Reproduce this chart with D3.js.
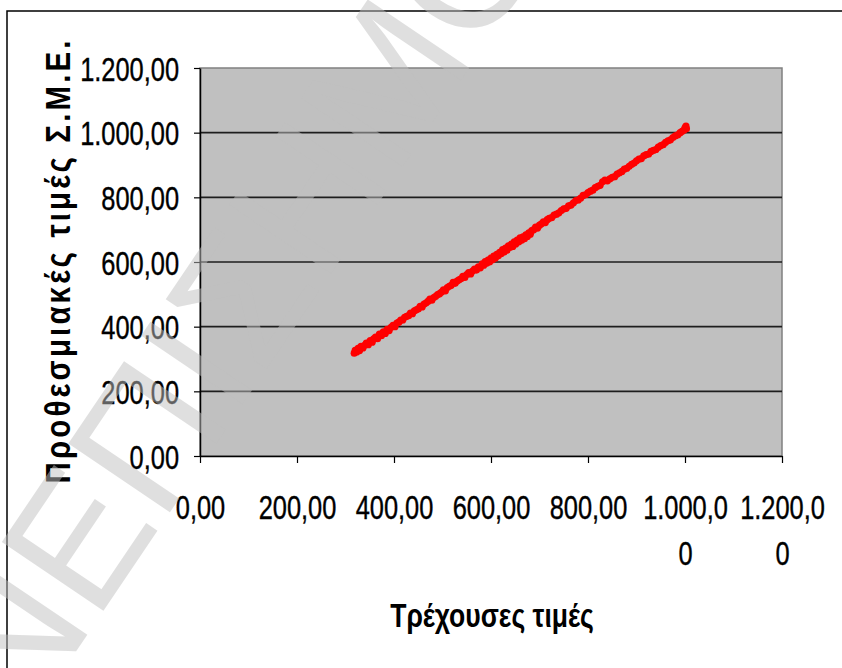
<!DOCTYPE html>
<html>
<head>
<meta charset="utf-8">
<script src="https://cdn.jsdelivr.net/npm/d3@7"></script>
<style>
  body { margin: 0; background: #fff; }
  svg { display: block; }
</style>
</head>
<body>
<svg id="chart" width="842" height="668"></svg>
<script>
// Current spot prices (x) against forward prices (y)
const currentPrices = [
  318,320,323,326,329,332,336,340,343,347,351,355,358,362,366,370,374,378,382,386,
  390,394,398,402,406,410,414,418,422,426,430,434,438,442,446,450,454,458,462,466,
  470,474,478,482,486,490,494,498,502,506,510,514,518,522,526,530,534,538,542,546,
  550,554,558,562,566,570,574,578,582,585,588,591,594,597,600,603,606,609,612,615,
  618,621,624,627,630,633,636,639,642,645,648,651,654,657,660,663,666,669,672,675,
  678,681,684,688,692,696,700,704,708,712,716,720,725,730,735,740,745,750,755,760,
  765,770,775,780,785,790,795,800,805,810,815,820,825,830,835,840,845,850,855,860,
  865,870,875,880,885,890,895,900,905,910,915,920,925,930,935,940,945,950,955,960,
  965,970,975,980,985,990,994,998,1000,1002,1003
];
const forwardPrices = [
  318,327,322,333,326,339,334,343,349,344,357,352,362,368,363,377,372,384,379,392,
  388,398,404,400,411,414,420,421,429,432,434,442,440,449,452,455,463,461,470,473,
  478,485,482,490,494,499,502,507,514,511,521,525,528,537,534,541,545,548,556,552,
  561,567,563,572,578,575,585,582,594,590,601,596,606,600,612,607,618,612,624,619,
  630,626,638,631,643,637,650,645,655,648,662,656,668,662,675,667,678,672,684,679,
  690,686,697,700,708,705,714,718,724,722,731,735,737,745,748,752,759,764,766,774,
  776,783,790,792,798,806,808,815,819,822,830,834,837,848,853,851,857,862,864,872,
  876,880,887,890,896,902,906,913,918,920,928,932,934,942,945,948,955,960,963,970,
  975,978,985,990,993,1000,1004,1008,1015,1020,1012
];

const xTicks = [0, 200, 400, 600, 800, 1000, 1200];
const yTicks = [0, 200, 400, 600, 800, 1000, 1200];
const xTitle = "Τρέχουσες τιμές";
const yTitle = "Προθεσμιακές τιμές Σ.Μ.Ε.";
const watermarkText = "ΑΝΕΠΙΣΗΜΟ";

const svg = d3.select("#chart");
const W = 842, H = 668;
const plot = { left: 200, right: 782, top: 68, bottom: 456 };
const narrow = 0.77;           // horizontal squeeze for the condensed label face
const labelFont = "'Liberation Sans', Arial, sans-serif";
const labelSize = 33;

const greek = d3.formatLocale({ decimal: ",", thousands: ".", grouping: [3], currency: ["", " €"] });
const fmt = greek.format(",.2f");

const x = d3.scaleLinear().domain([0, 1200]).range([plot.left, plot.right]);
const y = d3.scaleLinear().domain([0, 1200]).range([plot.bottom, plot.top]);

// outer frame (top and left edges)
svg.append("path")
  .attr("d", `M7,${H} L7,11 L${W},11`)
  .attr("fill", "none").attr("stroke", "#000").attr("stroke-width", 1.5);

// plot area
svg.append("rect")
  .attr("x", plot.left).attr("y", plot.top)
  .attr("width", plot.right - plot.left).attr("height", plot.bottom - plot.top)
  .attr("fill", "#c0c0c0").attr("stroke", "#808080").attr("stroke-width", 1.5);

// horizontal gridlines
svg.append("g").selectAll("line")
  .data(yTicks.filter(v => v > 0 && v < 1200))
  .join("line")
  .attr("x1", plot.left).attr("x2", plot.right)
  .attr("y1", d => y(d)).attr("y2", d => y(d))
  .attr("stroke", "#1e1e1e").attr("stroke-width", 1.6);

// y axis
const yAxis = svg.append("g")
  .attr("transform", `translate(${plot.left},0)`)
  .call(d3.axisLeft(y).tickValues(yTicks).tickFormat(fmt).tickSize(6).tickSizeOuter(0));
yAxis.select(".domain").attr("stroke", "#000").attr("stroke-width", 1.5);
yAxis.selectAll(".tick line").attr("stroke", "#000").attr("stroke-width", 1.2);
yAxis.selectAll(".tick text")
  .attr("font-family", labelFont).attr("font-size", labelSize).attr("fill", "#000")
  .attr("stroke", "#000").attr("stroke-width", 0.4)
  .attr("text-anchor", "end")
  .attr("x", -21 / narrow).attr("dy", "0.37em")
  .attr("transform", `scale(${narrow},1)`);

// x axis
const xAxis = svg.append("g")
  .attr("transform", `translate(0,${plot.bottom})`)
  .call(d3.axisBottom(x).tickValues(xTicks).tickFormat(fmt).tickSize(7).tickSizeOuter(0));
xAxis.select(".domain").attr("stroke", "#000").attr("stroke-width", 1.5);
xAxis.selectAll(".tick line").attr("stroke", "#000").attr("stroke-width", 1.2);

// x tick labels wrap onto a second line when wider than the tick spacing
const maxLabelWidth = 90;
xAxis.selectAll(".tick text").each(function(d) {
  const t = d3.select(this);
  const full = fmt(d);
  t.text(null)
    .attr("font-family", labelFont).attr("font-size", labelSize).attr("fill", "#000")
    .attr("stroke", "#000").attr("stroke-width", 0.4)
    .attr("text-anchor", "middle").attr("y", null).attr("dy", null)
    .attr("transform", `scale(${narrow},1)`);
  let first = full, second = "";
  const probe = t.append("tspan").attr("x", 0).attr("y", 63).text(first);
  while (probe.node().getComputedTextLength() * narrow > maxLabelWidth && first.length > 1) {
    second = first.slice(-1) + second;
    first = first.slice(0, -1);
    probe.text(first);
  }
  if (second) t.append("tspan").attr("x", 0).attr("y", 109).text(second);
});

// data points
svg.append("g").selectAll("circle")
  .data(currentPrices.map((v, i) => [v, forwardPrices[i]]))
  .join("circle")
  .attr("cx", d => x(d[0])).attr("cy", d => y(d[1]))
  .attr("r", 3.6).attr("fill", "#ff0000");

// axis titles
svg.append("text")
  .attr("transform", `translate(492,627) scale(0.78,1)`)
  .attr("text-anchor", "middle")
  .attr("font-family", labelFont).attr("font-weight", "bold").attr("font-size", 34)
  .attr("fill", "#000").text(xTitle);

const yTitleSqueeze = 0.82;
svg.append("text")
  .attr("transform", `translate(70,262) rotate(-90) scale(${yTitleSqueeze},1)`)
  .attr("text-anchor", "middle")
  .attr("font-family", labelFont).attr("font-weight", "bold").attr("font-size", 36)
  .attr("textLength", 443 / yTitleSqueeze).attr("lengthAdjust", "spacing")
  .attr("fill", "#000").text(yTitle);

// diagonal watermark across the page
svg.append("text")
  .attr("transform", "translate(205,350) rotate(-56)")
  .attr("text-anchor", "middle").attr("dominant-baseline", "central")
  .attr("font-family", labelFont).attr("font-size", 178)
  .attr("fill", "#c0c0c0").attr("fill-opacity", 0.5)
  .style("pointer-events", "none")
  .text(watermarkText);
</script>
</body>
</html>
